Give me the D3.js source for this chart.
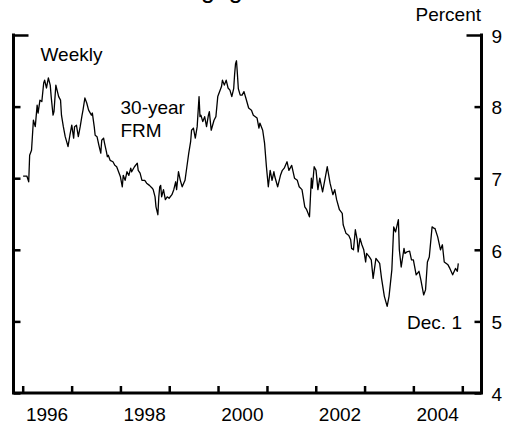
<!DOCTYPE html>
<html>
<head>
<meta charset="utf-8">
<script src="https://cdn.jsdelivr.net/npm/d3@7"></script>
<style>
  html, body { margin: 0; padding: 0; background: #fff; }
  svg { display: block; }
  text { font-family: Arial, "Liberation Sans", Helvetica, sans-serif; fill: #000; }
</style>
</head>
<body>
<svg id="chart" width="508" height="428"></svg>
<script>
// Weekly 30-year fixed-rate mortgage rate, weeks counted from the first week of 1996.
const weekIndex = [
  0, 4, 6, 7, 9, 11, 13, 15, 16, 18, 20, 22, 23, 25, 27, 29, 30, 32, 33, 35,
  38, 40, 41, 43, 45, 47, 48, 50, 52, 54, 55, 57, 59, 61, 63, 64, 66, 68, 70, 73,
  74, 76, 77, 79, 81, 83, 84, 86, 87, 89, 90, 91, 93, 96, 98, 100, 102, 104, 106, 107,
  109, 111, 113, 115, 116, 119, 122, 123, 125, 127, 130, 132, 135, 138, 139, 141, 142, 144, 145, 146,
  147, 148, 150, 152, 154, 156, 159, 161, 163, 164, 166, 168, 170, 173, 175, 177, 179, 180, 182, 184,
  186, 188, 189, 190, 192, 194, 196, 198, 199, 201, 204, 206, 208, 210, 212, 213, 215, 217, 219, 221,
  223, 225, 226, 227, 228, 229, 230, 232, 234, 236, 238, 241, 244, 246, 250, 252, 253, 256, 258, 260,
  262, 264, 266, 268, 269, 272, 275, 277, 279, 282, 284, 287, 290, 293, 295, 298, 301, 303, 306, 308,
  309, 311, 313, 315, 317, 320, 323, 325, 328, 331, 333, 335, 338, 341, 342, 345, 348, 350, 351, 353,
  355, 357, 358, 360, 362, 364, 366, 367, 370, 372, 374, 377, 381, 383, 386, 389, 391, 394, 396, 398,
  401, 402, 404, 407, 408, 410, 413, 415, 417, 420, 423, 425, 428, 430, 432, 434, 437, 439, 440, 443,
  446, 448, 450, 454, 456, 459, 462, 464, 465
];
const rates = [
  7.03, 7.03, 6.95, 7.32, 7.39, 7.81, 7.72, 8.02, 7.91, 8.09, 8.07, 8.33, 8.37, 8.26, 8.40, 8.30, 8.14, 7.88, 7.93, 8.30,
  8.14, 8.09, 7.88, 7.72, 7.58, 7.49, 7.44, 7.60, 7.74, 7.56, 7.72, 7.74, 7.58, 7.72, 7.88, 7.95, 8.12, 8.05, 7.95, 7.88,
  7.91, 7.72, 7.60, 7.58, 7.46, 7.35, 7.53, 7.56, 7.49, 7.37, 7.30, 7.32, 7.25, 7.23, 7.18, 7.16, 7.09, 7.02, 6.88, 7.04,
  6.97, 7.09, 7.04, 7.14, 7.09, 7.16, 7.21, 7.11, 7.07, 6.97, 6.97, 6.93, 6.90, 6.86, 6.84, 6.74, 6.60, 6.49, 6.74, 6.88,
  6.90, 6.74, 6.84, 6.70, 6.74, 6.72, 6.77, 6.84, 6.95, 6.84, 7.09, 6.97, 6.88, 6.97, 7.16, 7.35, 7.51, 7.67, 7.70, 7.56,
  7.72, 8.14, 7.86, 7.88, 7.79, 7.86, 7.72, 7.88, 7.93, 7.67, 7.81, 7.86, 8.14, 8.21, 8.28, 8.37, 8.30, 8.37, 8.26, 8.23,
  8.14, 8.25, 8.45, 8.60, 8.64, 8.45, 8.25, 8.16, 8.16, 8.21, 8.12, 7.98, 7.95, 7.88, 7.84, 7.70, 7.77, 7.67, 7.49, 7.16,
  6.88, 7.11, 6.97, 7.09, 7.02, 6.88, 7.04, 7.11, 7.14, 7.23, 7.11, 7.18, 7.00, 6.97, 6.88, 6.84, 6.60, 6.56, 6.46, 7.00,
  6.86, 7.16, 7.11, 6.84, 7.00, 6.81, 7.02, 7.16, 6.93, 6.77, 6.84, 6.70, 6.56, 6.51, 6.35, 6.23, 6.20, 6.14, 6.02, 6.00,
  6.28, 6.14, 5.97, 6.16, 6.07, 6.00, 5.83, 5.95, 5.90, 5.86, 5.60, 5.88, 5.81, 5.60, 5.35, 5.21, 5.35, 5.72, 6.32, 6.25,
  6.42, 6.00, 5.76, 6.02, 5.95, 5.97, 5.98, 5.86, 5.86, 5.65, 5.70, 5.58, 5.37, 5.44, 5.83, 5.90, 6.32, 6.30, 6.30, 6.18,
  6.00, 6.07, 5.83, 5.79, 5.74, 5.65, 5.74, 5.70, 5.81
];
const tickYears = [1996, 1997, 1998, 1999, 2000, 2001, 2002, 2003, 2004, 2005];
const labelYears = [1996, 1998, 2000, 2002, 2004];
const percentTicks = [4, 5, 6, 7, 8, 9];

const firstWeek = new Date(1996, 0, 4);
const series = weekIndex.map((w, i) => ({ date: d3.timeDay.offset(firstWeek, 7 * w), value: rates[i] }));

const svg = d3.select("#chart");
const frame = { left: 13.5, right: 481.5, top: 35, bottom: 393 };

const x = d3.scaleTime()
  .domain([new Date(1996, 0, 1), new Date(2005, 0, 1)])
  .range([22.7, 462.3]);
const y = d3.scaleLinear().domain([4, 9]).range([frame.bottom, frame.top]);

// Title (sits above the visible area)
svg.append("text")
  .attr("x", 151).attr("y", -2)
  .style("font-size", "25px")
  .text("Mortgage Rates");

// Line
svg.append("path")
  .datum(series)
  .attr("fill", "none")
  .attr("stroke", "#000")
  .attr("stroke-width", 1.3)
  .attr("stroke-linejoin", "round")
  .attr("d", d3.line().x(d => x(d.date)).y(d => y(d.value)));

// Left axis: inward ticks, no labels
const leftAxis = svg.append("g")
  .attr("transform", `translate(${frame.left},0)`)
  .call(d3.axisLeft(y).tickValues(percentTicks).tickSizeInner(-7).tickSizeOuter(0).tickFormat(""));

// Right axis: inward ticks, labels outside
const rightAxis = svg.append("g")
  .attr("transform", `translate(${frame.right},0)`)
  .call(d3.axisRight(y).tickValues(percentTicks).tickSizeInner(-7).tickSizeOuter(0)
    .tickPadding(10).tickFormat(d3.format("d")));
rightAxis.selectAll("text").style("font-size", "19px").attr("dy", "0.38em");

// Bottom axis: inward yearly ticks
const bottomAxis = svg.append("g")
  .attr("transform", `translate(0,${frame.bottom})`)
  .call(d3.axisBottom(x).tickValues(tickYears.map(yr => new Date(yr, 0, 1))).tickSizeInner(-7).tickSizeOuter(0).tickFormat(""));

[leftAxis, rightAxis, bottomAxis].forEach(g => {
  g.select(".domain").remove();
  g.selectAll(".tick line").attr("stroke", "#000").attr("stroke-width", 2.5);
});

// Longer top ticks form the corner brackets
leftAxis.selectAll(".tick").filter(d => d === 9).select("line").attr("x2", 15);
rightAxis.selectAll(".tick").filter(d => d === 9).select("line").attr("x2", -15);

// Frame lines (left, bottom, right)
svg.append("path")
  .attr("fill", "none")
  .attr("stroke", "#000")
  .attr("stroke-width", 3)
  .attr("stroke-linecap", "square")
  .attr("d", `M${frame.left},${frame.top}V${frame.bottom}H${frame.right}V${frame.top}`);

// Year labels centred in each year
svg.append("g").selectAll("text")
  .data(labelYears)
  .join("text")
  .attr("x", yr => x(new Date(yr, 6, 1)))
  .attr("y", 421)
  .attr("text-anchor", "middle")
  .style("font-size", "19px")
  .text(yr => yr);

// Annotations
svg.append("text").attr("x", 481).attr("y", 20.5).attr("text-anchor", "end")
  .style("font-size", "19px").text("Percent");
svg.append("text").attr("x", 40.5).attr("y", 60.5)
  .style("font-size", "19px").text("Weekly");
svg.append("text").attr("x", 120.5).attr("y", 114)
  .style("font-size", "19px").text("30-year");
svg.append("text").attr("x", 120.5).attr("y", 137)
  .style("font-size", "19px").text("FRM");
svg.append("text").attr("x", 462).attr("y", 329).attr("text-anchor", "end")
  .style("font-size", "19px").text("Dec. 1");
</script>
</body>
</html>
